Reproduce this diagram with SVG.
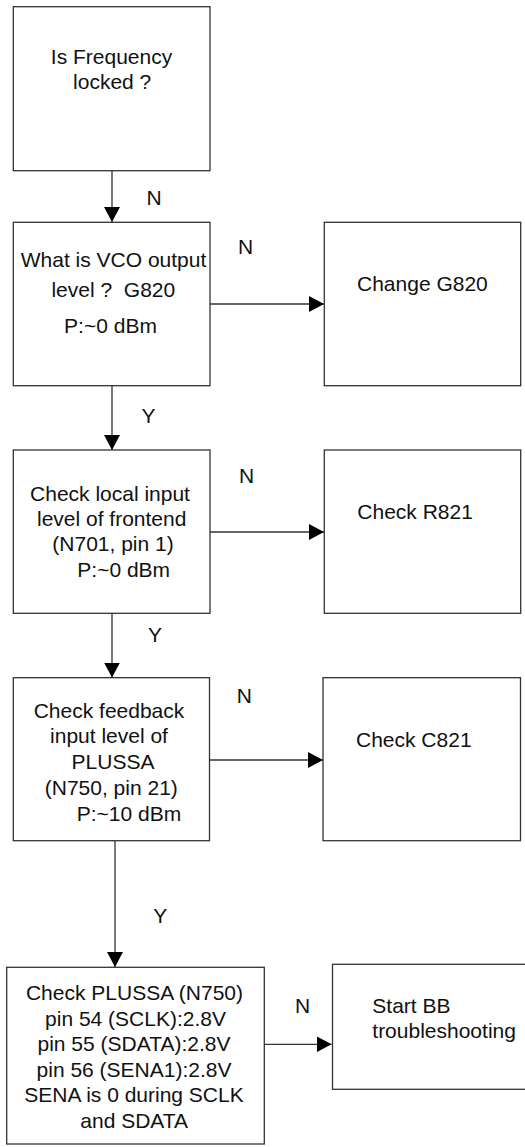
<svg xmlns="http://www.w3.org/2000/svg" width="525" height="1147" viewBox="0 0 525 1147">
<style>
.box{fill:#fff;stroke:#333;stroke-width:1.3}
.t{font-family:"Liberation Sans",Arial,sans-serif;font-size:21px;fill:#111}
.c{text-anchor:middle}
.ln{stroke:#333;stroke-width:1.3;fill:none}
</style>
<defs>
<marker id="ah" markerUnits="userSpaceOnUse" markerWidth="15" markerHeight="16" refX="15" refY="8" orient="auto">
<path d="M0,0 L15,8 L0,16 z" fill="#000"/>
</marker>
</defs>
<rect width="525" height="1147" fill="#fff"/>
<g id="connectors">
<line class="ln" x1="112" y1="170.7" x2="112" y2="222" marker-end="url(#ah)"/>
<line class="ln" x1="112" y1="385.7" x2="112" y2="450" marker-end="url(#ah)"/>
<line class="ln" x1="112" y1="613.3" x2="112" y2="677.5" marker-end="url(#ah)"/>
<line class="ln" x1="115" y1="840.7" x2="115" y2="967" marker-end="url(#ah)"/>
<line class="ln" x1="210" y1="304" x2="324" y2="304" marker-end="url(#ah)"/>
<line class="ln" x1="210" y1="532" x2="324" y2="532" marker-end="url(#ah)"/>
<line class="ln" x1="209.5" y1="760" x2="323" y2="760" marker-end="url(#ah)"/>
<line class="ln" x1="264.3" y1="1044.3" x2="331.5" y2="1044.3" marker-end="url(#ah)"/>
<text class="t" x="146.5" y="205">N</text>
<text class="t" x="238" y="253.5">N</text>
<text class="t" x="141.5" y="423.3">Y</text>
<text class="t" x="239" y="483.3">N</text>
<text class="t" x="148" y="641.7">Y</text>
<text class="t" x="236.7" y="703.3">N</text>
<text class="t" x="153.3" y="922.7">Y</text>
<text class="t" x="295" y="1013.3">N</text>
</g>
<g id="n1">
<rect class="box" x="13.3" y="6.7" width="196.7" height="164"/>
<text class="t c" x="111.5" y="63.5">Is Frequency</text>
<text class="t c" x="112.2" y="88.5">locked ?</text>
</g>
<g id="n2">
<rect class="box" x="13.3" y="222.3" width="196.7" height="163.4"/>
<text class="t c" x="113.5" y="266.7">What is VCO output</text>
<text class="t c" x="113.3" y="296.5" xml:space="preserve">level ?  G820</text>
<text class="t c" x="110.5" y="333">P:~0 dBm</text>
</g>
<g id="n3">
<rect class="box" x="324.3" y="222.3" width="196.4" height="163.4"/>
<text class="t" x="357" y="291">Change G820</text>
</g>
<g id="n4">
<rect class="box" x="13.3" y="450" width="196.7" height="163.3"/>
<text class="t c" x="110" y="501">Check local input</text>
<text class="t c" x="111.7" y="526">level of frontend</text>
<text class="t c" x="113" y="551">(N701, pin 1)</text>
<text class="t" x="77.3" y="576.5">P:~0 dBm</text>
</g>
<g id="n5">
<rect class="box" x="324.3" y="450" width="196.4" height="163.3"/>
<text class="t" x="357.3" y="519.3">Check R821</text>
</g>
<g id="n6">
<rect class="box" x="13.3" y="677.7" width="196.2" height="163"/>
<text class="t c" x="109" y="717.7">Check feedback</text>
<text class="t c" x="109" y="743.3">input level of</text>
<text class="t c" x="113" y="769.3">PLUSSA</text>
<text class="t c" x="111.3" y="795">(N750, pin 21)</text>
<text class="t" x="76.7" y="820.7">P:~10 dBm</text>
</g>
<g id="n7">
<rect class="box" x="323" y="677.7" width="197.5" height="163"/>
<text class="t" x="356" y="746.7">Check C821</text>
</g>
<g id="n8">
<rect class="box" x="6.7" y="967.3" width="257.6" height="176.7"/>
<text class="t c" x="134.5" y="1000">Check PLUSSA (N750)</text>
<text class="t c" x="135.5" y="1025.5">pin 54 (SCLK):2.8V</text>
<text class="t c" x="134" y="1051">pin 55 (SDATA):2.8V</text>
<text class="t c" x="134" y="1076.5">pin 56 (SENA1):2.8V</text>
<text class="t c" x="134" y="1102">SENA is 0 during SCLK</text>
<text class="t c" x="134.2" y="1127.5">and SDATA</text>
</g>
<g id="n9">
<rect class="box" x="332.5" y="964.3" width="200" height="125"/>
<text class="t" x="372.3" y="1013.3">Start BB</text>
<text class="t" x="372.3" y="1037.5">troubleshooting</text>
</g>
</svg>
